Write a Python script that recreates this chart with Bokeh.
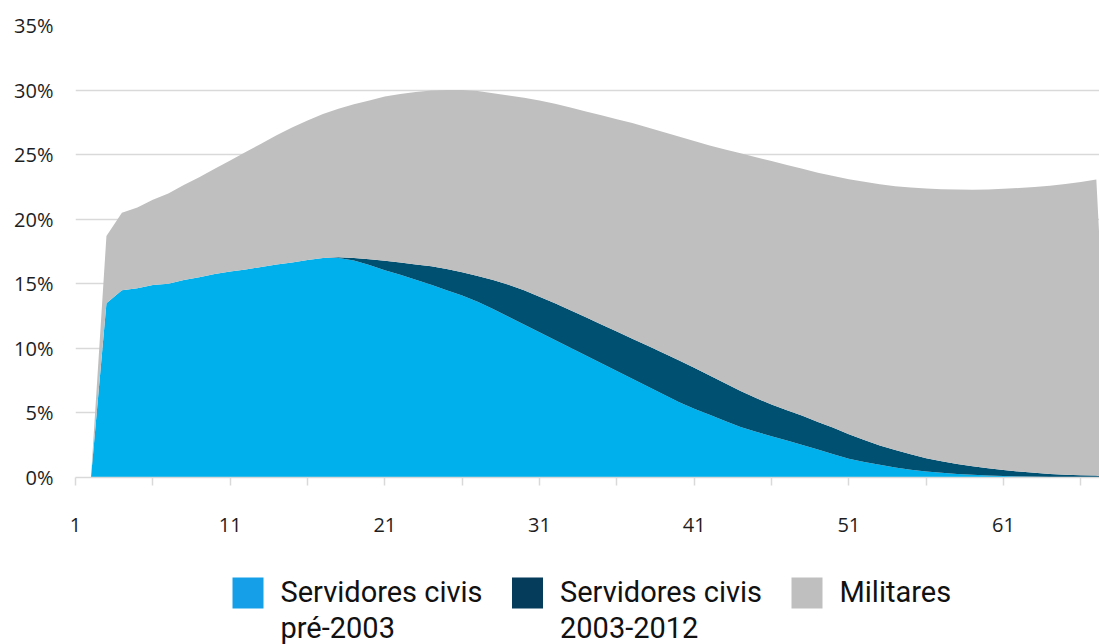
from bokeh.plotting import figure
from bokeh.layouts import column
from bokeh.models import ColumnDataSource, FixedTicker, Range1d, PrintfTickFormatter
from bokeh.core.properties import value
from bokeh.embed import file_html
from bokeh.resources import INLINE

# ---- data (percent) ----
x = list(range(2, 69))
pre2003 = [0, 13.5, 14.5, 14.65, 14.9, 15.0, 15.3, 15.5, 15.75, 15.95,
           16.1, 16.3, 16.5, 16.65, 16.85, 17.0, 17.0, 16.8, 16.45, 16.05,
           15.7, 15.32, 14.92, 14.5, 14.1, 13.6, 13.05, 12.45, 11.85, 11.25,
           10.65, 10.05, 9.45, 8.85, 8.25, 7.65, 7.05, 6.45, 5.85, 5.33,
           4.85, 4.38, 3.92, 3.55, 3.2, 2.86, 2.52, 2.16, 1.8, 1.46,
           1.2, 0.98, 0.78, 0.6, 0.47, 0.36, 0.28, 0.21, 0.15, 0.11,
           0.08, 0.06, 0.04, 0.03, 0.02, 0.01, 0]
post2003 = [0, 0, 0, 0, 0, 0, 0, 0, 0, 0,
            0, 0, 0, 0, 0, 0, 0.05, 0.2, 0.45, 0.73,
            0.95, 1.18, 1.43, 1.65, 1.8, 2.0, 2.25, 2.47, 2.65, 2.75,
            2.85, 2.9, 2.96, 3.0, 3.05, 3.1, 3.15, 3.2, 3.23, 3.17,
            3.05, 2.92, 2.78, 2.6, 2.45, 2.34, 2.26, 2.14, 2.05, 1.89,
            1.7, 1.5, 1.34, 1.2, 1.03, 0.89, 0.77, 0.66, 0.57, 0.47,
            0.38, 0.3, 0.24, 0.19, 0.16, 0.14, 0]
militares = [0, 5.2, 6.0, 6.25, 6.6, 7.0, 7.35, 7.75, 8.15, 8.6,
             9.1, 9.55, 10.0, 10.45, 10.8, 11.15, 11.5, 11.9, 12.3, 12.72,
             13.05, 13.35, 13.62, 13.85, 14.1, 14.32, 14.45, 14.66, 14.9, 15.2,
             15.45, 15.7, 15.94, 16.2, 16.45, 16.7, 16.9, 17.1, 17.32, 17.55,
             17.8, 18.1, 18.4, 18.65, 18.85, 19.0, 19.12, 19.3, 19.5, 19.75,
             20.0, 20.22, 20.43, 20.65, 20.88, 21.07, 21.25, 21.41, 21.58, 21.77,
             21.96, 22.14, 22.32, 22.5, 22.7, 22.93, 0]
series_labels = ["Servidores civis\npré-2003", "Servidores civis\n2003-2012", "Militares"]
x_ticks = [1, 11, 21, 31, 41, 51, 61]
x_minor_ticks = [6, 16, 26, 36, 46, 56, 66]
y_ticks = [0, 5, 10, 15, 20, 25, 30, 35]

# ---- styles ----
area_colors = ["#00b0ed", "#005072", "#bfbfbf"]
legend_colors = ["#169fe9", "#053c5c", "#bfbfbf"]
grid_color = "#d9d9d9"
text_color = "#1e1e1e"

FRAME_W, FRAME_H = 1024, 452
LEFT, TOP, BOTTOM = 75, 25, 80
PX_PER_UNIT = 15.467

src = ColumnDataSource(dict(x=x, pre=pre2003, post=post2003, mil=militares))

p = figure(frame_width=FRAME_W, frame_height=FRAME_H,
           x_range=Range1d(1, 1 + FRAME_W / PX_PER_UNIT), y_range=Range1d(0, 35),
           output_backend="svg", toolbar_location=None,
           min_border_left=LEFT, min_border_right=0, min_border_top=TOP, min_border_bottom=BOTTOM)
p.outline_line_color = None
p.background_fill_color = "white"
p.border_fill_color = "white"

p.varea_stack(["pre", "post", "mil"], x="x", color=area_colors, source=src)

# x axis
xa = p.xaxis[0]
xa.ticker = FixedTicker(ticks=x_ticks, minor_ticks=x_minor_ticks)
xa.axis_line_color = grid_color
xa.axis_line_width = 1.5
xa.major_tick_line_color = grid_color
xa.minor_tick_line_color = grid_color
xa.major_tick_line_width = 1.5
xa.minor_tick_line_width = 1.5
xa.major_tick_in = 0
xa.major_tick_out = 8
xa.minor_tick_in = 0
xa.minor_tick_out = 8
xa.major_label_standoff = 32
xa.major_label_text_font = "Open Sans"
xa.major_label_text_font_size = "20px"
xa.major_label_text_color = text_color

# y axis
ya = p.yaxis[0]
ya.ticker = FixedTicker(ticks=y_ticks)
ya.formatter = PrintfTickFormatter(format="%d%%")
ya.axis_line_color = None
ya.major_tick_line_color = None
ya.minor_tick_line_color = None
ya.major_tick_out = 0
ya.major_tick_in = 0
ya.major_label_standoff = 22
ya.major_label_text_font = "Open Sans"
ya.major_label_text_font_size = "20px"
ya.major_label_text_color = text_color

p.xgrid.visible = False
p.ygrid.ticker = FixedTicker(ticks=y_ticks)
p.ygrid.grid_line_color = grid_color
p.ygrid.grid_line_width = 1.5

# ---- legend as a separate strip below; its frame aligns with the chart frame,
#      so x is in page pixels and y in pixels downward from the strip top ----
LEG_H = 87
SW_X0, SW_STEP, SW_TOP, SW_SIZE, TXT_GAP, TXT_RAISE = 232, 279.5, 20, 31, 17, 3
sw_left = [SW_X0 + i * SW_STEP for i in range(len(series_labels))]
leg_src = ColumnDataSource(dict(
    left=sw_left,
    right=[v + SW_SIZE for v in sw_left],
    top=[SW_TOP] * len(series_labels),
    bottom=[SW_TOP + SW_SIZE] * len(series_labels),
    tx=[v + SW_SIZE + TXT_GAP for v in sw_left],
    ty=[SW_TOP - TXT_RAISE] * len(series_labels),
    color=legend_colors,
    label=series_labels,
))
leg = figure(frame_width=FRAME_W, frame_height=LEG_H,
             x_range=Range1d(LEFT, LEFT + FRAME_W), y_range=Range1d(LEG_H, 0),
             output_backend="svg", toolbar_location=None,
             min_border_left=LEFT, min_border_right=0, min_border_top=0, min_border_bottom=0)
leg.axis.visible = False
leg.grid.visible = False
leg.outline_line_color = None
leg.background_fill_color = "white"
leg.border_fill_color = "white"
leg.quad(left="left", right="right", top="top", bottom="bottom", fill_color="color",
         line_color=None, source=leg_src)
leg.text(x="tx", y="ty", text="label", source=leg_src,
         text_font=value("Roboto"), text_font_size="29px", text_color="#111111",
         text_baseline="top", text_align="left", text_line_height=1.06)

layout = column(p, leg, spacing=0)
open("out.html", "w").write(file_html(layout, INLINE))
